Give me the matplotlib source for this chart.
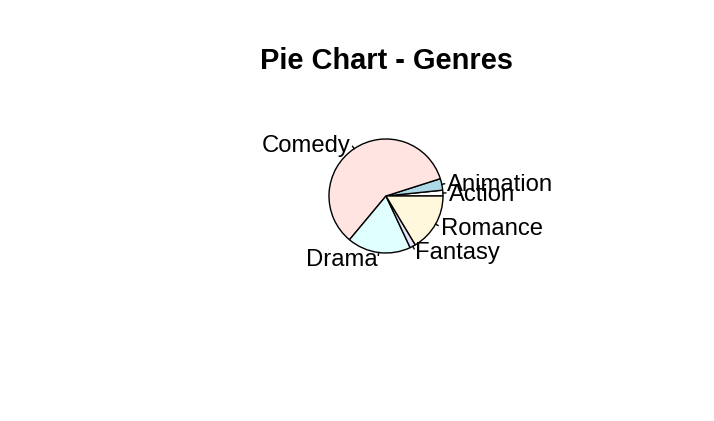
import matplotlib
matplotlib.use("Agg")
import matplotlib.pyplot as plt
import matplotlib.transforms as mtransforms
import numpy as np

# genre counts
genres = ["Action", "Animation", "Comedy", "Drama", "Fantasy", "Romance"]
counts = [1, 2, 36, 11, 1, 10]
colors = ["white", "lightblue", "mistyrose", "lightcyan", "lavender", "cornsilk"]

plt.rcParams['font.family'] = ['Liberation Sans', 'DejaVu Sans']

fig = plt.figure(figsize=(7.14, 4.21), dpi=100)
fig.patch.set_facecolor("white")

# axes placed so pie centre sits at ~(386,196) px, radius 0.8 -> 57px
ax = fig.add_axes([0.4408, 0.3652, 0.1996, 0.3385])

R = 0.8
wedges, texts = ax.pie(counts, labels=genres, colors=colors, startangle=0,
                       counterclock=True, radius=R, labeldistance=1.1,
                       wedgeprops=dict(edgecolor="black", linewidth=1.0),
                       textprops=dict(fontsize=17.2, color="black"))

# little tick lines from rim to 1.05 radius, like R's pie()
for w in wedges:
    mid = np.deg2rad((w.theta1 + w.theta2) / 2)
    ax.plot([R * np.cos(mid), 1.05 * R * np.cos(mid)],
            [R * np.sin(mid), 1.05 * R * np.sin(mid)],
            color="black", linewidth=1.0, clip_on=False)

# nudge labels down a touch (R centres text a bit lower)
shift = mtransforms.ScaledTranslation(0, -2 / 100, fig.dpi_scale_trans)
for t in texts:
    t.set_clip_on(False)
    t.set_transform(t.get_transform() + shift)

# pie() resets the limits, so set them afterwards
ax.set_xlim(-1, 1)
ax.set_ylim(-1, 1)
ax.set_aspect("equal")
ax.axis("off")

fig.text(386 / 714, 1 - 61 / 421, "Pie Chart - Genres", ha="center", va="center",
         fontsize=20.9, fontweight="bold")

fig.savefig("out.png", dpi=100)
